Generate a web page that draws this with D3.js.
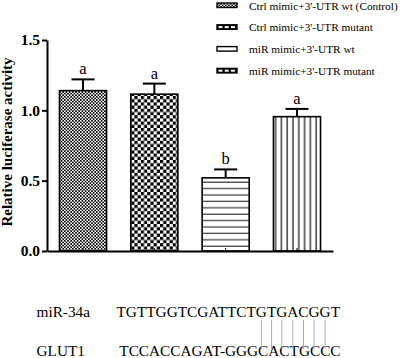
<!DOCTYPE html>
<html>
<head>
<meta charset="utf-8">
<script src="https://cdn.jsdelivr.net/npm/d3@7"></script>
<style>
  body { margin: 0; background: white; }
  svg { display: block; }
</style>
</head>
<body>
<script>
// chart data
const groups = ["Ctrl mimic+3'-UTR wt (Control)", "Ctrl mimic+3'-UTR mutant", "miR mimic+3'-UTR wt", "miR mimic+3'-UTR mutant"];
const means = [1.14, 1.115, 0.52, 0.955];
const errors = [0.08, 0.075, 0.06, 0.055];
const letters = ["a", "a", "b", "a"];
const yTicks = [0, 0.5, 1.0, 1.5];

// sequence alignment under the chart
const seqNames = ["miR-34a", "GLUT1"];
const seqs = ["TGTTGGTCGATTCTGTGACGGT", "TCCACCAGAT-GGGCACTGCCC"];
const pairIdx = [14, 15, 16, 17, 18, 19, 20];

const width = 400, height = 358;
const serif = "'Liberation Serif', 'Times New Roman', serif";

const svg = d3.select("body").append("svg")
    .attr("width", width)
    .attr("height", height);

const defs = svg.append("defs");

// checkerboard patterns
function checker(id, c) {
  const p = defs.append("pattern")
      .attr("id", id)
      .attr("patternUnits", "userSpaceOnUse")
      .attr("width", c * 2).attr("height", c * 2);
  p.append("rect").attr("width", c * 2).attr("height", c * 2).attr("fill", "white");
  p.append("rect").attr("width", c).attr("height", c).attr("fill", "black");
  p.append("rect").attr("x", c).attr("y", c).attr("width", c).attr("height", c).attr("fill", "black");
}
checker("fine", 1.6);
checker("coarse", 3.2);

const hp = defs.append("pattern").attr("id", "hlines")
    .attr("patternUnits", "userSpaceOnUse").attr("width", 10).attr("height", 6.4);
hp.append("rect").attr("width", 10).attr("height", 6.4).attr("fill", "white");
hp.append("line").attr("x1", 0).attr("x2", 10).attr("y1", 3).attr("y2", 3)
    .attr("stroke", "#333").attr("stroke-width", 1.2);

const vp = defs.append("pattern").attr("id", "vlines")
    .attr("patternUnits", "userSpaceOnUse").attr("width", 5.8).attr("height", 10);
vp.append("rect").attr("width", 5.8).attr("height", 10).attr("fill", "white");
vp.append("line").attr("y1", 0).attr("y2", 10).attr("x1", 3).attr("x2", 3)
    .attr("stroke", "#222").attr("stroke-width", 1.3);

const fills = ["url(#fine)", "url(#coarse)", "url(#hlines)", "url(#vlines)"];

// scales
const x = d3.scaleBand()
    .domain(groups)
    .range([47, 333])
    .paddingInner(0.34)
    .paddingOuter(0.175);

const y = d3.scaleLinear()
    .domain([0, 1.5])
    .range([251, 40]);

// bars
const bars = svg.append("g")
  .selectAll("g")
  .data(groups)
  .join("g");

bars.append("rect")
    .attr("x", d => x(d))
    .attr("y", (d, i) => y(means[i]))
    .attr("width", x.bandwidth())
    .attr("height", (d, i) => y(0) - y(means[i]))
    .attr("fill", (d, i) => fills[i])
    .attr("stroke", "black")
    .attr("stroke-width", 1.6);

// error bars (upper only)
bars.append("line")
    .attr("x1", d => x(d) + x.bandwidth() / 2)
    .attr("x2", d => x(d) + x.bandwidth() / 2)
    .attr("y1", (d, i) => y(means[i]))
    .attr("y2", (d, i) => y(means[i] + errors[i]))
    .attr("stroke", "black")
    .attr("stroke-width", 2);

bars.append("line")
    .attr("x1", d => x(d) + x.bandwidth() / 2 - 11.5)
    .attr("x2", d => x(d) + x.bandwidth() / 2 + 11.5)
    .attr("y1", (d, i) => y(means[i] + errors[i]))
    .attr("y2", (d, i) => y(means[i] + errors[i]))
    .attr("stroke", "black")
    .attr("stroke-width", 2);

bars.append("text")
    .attr("x", d => x(d) + x.bandwidth() / 2)
    .attr("y", (d, i) => y(means[i] + errors[i]) - 5)
    .attr("text-anchor", "middle")
    .style("font", `16.5px ${serif}`)
    .text((d, i) => letters[i]);

// axes
const yAxis = svg.append("g")
    .attr("transform", "translate(47,0)")
    .call(d3.axisLeft(y).tickValues(yTicks).tickFormat(d3.format(".1f")).tickSize(5).tickSizeOuter(0).tickPadding(2));
yAxis.select(".domain").attr("stroke-width", 2);
yAxis.selectAll(".tick line").attr("stroke-width", 2);
yAxis.selectAll("text")
    .style("font", `bold 15.5px ${serif}`)
    .attr("fill", "black");

const xAxis = svg.append("g")
    .attr("transform", "translate(0,251)")
    .call(d3.axisBottom(x).tickSize(-3).tickSizeOuter(0).tickFormat(""));
xAxis.select(".domain").attr("stroke-width", 2);

svg.append("text")
    .attr("transform", "translate(11.5,142) rotate(-90)")
    .attr("text-anchor", "middle")
    .style("font", `bold 15px ${serif}`)
    .text("Relative luciferase activity");

// legend
const legend = svg.append("g")
    .attr("transform", "translate(217,3)");

const legendRow = legend.selectAll("g")
  .data(groups)
  .join("g")
    .attr("transform", (d, i) => `translate(0,${i * 21.8})`);

const legendFills = ["url(#fine)", "black", "white", "black"];
legendRow.append("rect")
    .attr("width", 20)
    .attr("height", 4.5)
    .attr("fill", (d, i) => legendFills[i])
    .attr("stroke", "black")
    .attr("stroke-width", 1.4);

// white dashes in the dark swatches
legendRow.filter((d, i) => i === 1 || i === 3)
  .selectAll("rect.dash")
  .data([0, 1, 2])
  .join("rect")
    .attr("class", "dash")
    .attr("x", k => 1.5 + k * 6.2)
    .attr("y", 1.3)
    .attr("width", 4)
    .attr("height", 2)
    .attr("fill", "white");

legendRow.append("text")
    .attr("x", 32)
    .attr("y", 6.5)
    .style("font", `11.3px ${serif}`)
    .text(d => d);

// sequences
const seqY = [317, 356];
const seqX = [116.5, 119.3];
seqNames.forEach((n, i) => {
  svg.append("text")
      .attr("x", 36.5)
      .attr("y", seqY[i])
      .style("font", `15.3px ${serif}`)
      .text(n);
});
const seqText = seqs.map((s, i) => svg.append("text")
    .attr("x", seqX[i])
    .attr("y", seqY[i])
    .style("font", `15.3px ${serif}`)
    .text(s));

// pairing lines under the matched bases
const topNode = seqText[0].node();
svg.append("g")
  .selectAll("line")
  .data(pairIdx)
  .join("line")
    .attr("x1", k => { const e = topNode.getExtentOfChar(k); return e.x + e.width / 2; })
    .attr("x2", k => { const e = topNode.getExtentOfChar(k); return e.x + e.width / 2; })
    .attr("y1", 320)
    .attr("y2", 349)
    .attr("stroke", "#9aaccb")
    .attr("stroke-width", 1);
</script>
</body>
</html>
